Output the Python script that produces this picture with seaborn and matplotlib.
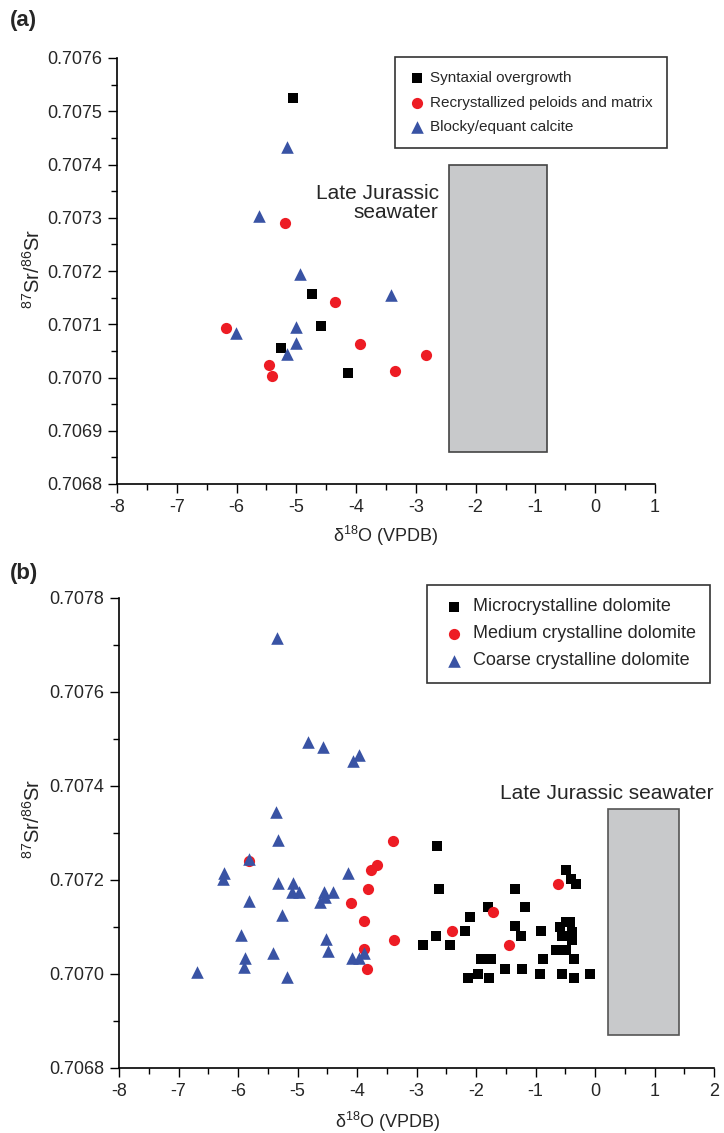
import matplotlib
matplotlib.use("Agg")
import matplotlib.pyplot as plt
import matplotlib.ticker as mticker
from matplotlib.patches import Rectangle
import pandas as pd
import seaborn as sns

# ---- panel (a) data ----
a_syn_x = [-5.06, -4.74, -4.59, -5.26, -4.13]
a_syn_y = [0.707525, 0.707157, 0.707097, 0.707055, 0.707008]
a_rec_x = [-5.19, -4.36, -6.18, -3.94, -2.83, -5.45, -5.40, -3.35]
a_rec_y = [0.707291, 0.707142, 0.707093, 0.707062, 0.707042, 0.707023, 0.707003, 0.707012]
a_blk_x = [-5.16, -5.62, -4.94, -3.42, -5.01, -6.01, -5.01, -5.15]
a_blk_y = [0.707433, 0.707304, 0.707194, 0.707154, 0.707094, 0.707084, 0.707064, 0.707044]
a_sea_x = [-2.45, -0.80]
a_sea_y = [0.70686, 0.70740]

# ---- panel (b) data ----
b_mic_x = [-2.65, -2.63, -2.89, -2.67, -2.43, -2.18, -2.10, -1.79, -1.34, -1.17,
           -1.34, -1.24, -0.90, -1.92, -1.75, -1.97, -2.13, -1.78, -1.51, -1.22,
           -0.92, -0.87, -0.55, -0.36, -0.08, -0.35, -0.66, -0.48, -0.59, -0.42,
           -0.39, -0.56, -0.38, -0.49, -0.40, -0.32, -0.48]
b_mic_y = [0.707272, 0.707180, 0.707062, 0.707081, 0.707062, 0.707091, 0.707121, 0.707143, 0.707180, 0.707143,
           0.707103, 0.707081, 0.707091, 0.707031, 0.707031, 0.707001, 0.706991, 0.706991, 0.707010, 0.707010,
           0.707001, 0.707031, 0.707001, 0.706991, 0.707001, 0.707031, 0.707051, 0.707051, 0.707101, 0.707111,
           0.707090, 0.707081, 0.707072, 0.707221, 0.707202, 0.707191, 0.707111]
b_med_x = [-3.39, -3.66, -3.76, -3.82, -4.10, -3.88, -3.37, -3.88, -3.84, -5.82,
           -2.40, -1.71, -1.45, -0.63]
b_med_y = [0.707282, 0.707232, 0.707221, 0.707181, 0.707152, 0.707112, 0.707072, 0.707053, 0.707011, 0.707241,
           0.707091, 0.707131, 0.707062, 0.707191]
b_coa_x = [-5.35, -4.83, -4.57, -3.97, -4.06, -5.36, -5.33, -5.82, -6.24, -6.25,
           -4.15, -5.32, -5.07, -5.10, -4.97, -4.56, -4.40, -4.53, -4.62, -5.82,
           -5.26, -5.95, -4.52, -4.48, -5.41, -5.89, -5.90, -6.69, -5.18, -4.09,
           -3.96, -3.88]
b_coa_y = [0.707714, 0.707494, 0.707484, 0.707466, 0.707454, 0.707345, 0.707285, 0.707244, 0.707214, 0.707202,
           0.707214, 0.707194, 0.707194, 0.707174, 0.707174, 0.707174, 0.707174, 0.707164, 0.707154, 0.707155,
           0.707125, 0.707084, 0.707074, 0.707050, 0.707045, 0.707035, 0.707014, 0.707005, 0.706994, 0.707035,
           0.707035, 0.707045]
b_sea_x = [0.22, 1.42]
b_sea_y = [0.70687, 0.70735]

a_labels = ["Syntaxial overgrowth", "Recrystallized peloids and matrix", "Blocky/equant calcite"]
b_labels = ["Microcrystalline dolomite", "Medium crystalline dolomite", "Coarse crystalline dolomite"]

BLACK, RED, BLUE = "#000000", "#ED1C24", "#3953A4"

sns.set_style("ticks")
plt.rcParams["font.family"] = ["Liberation Sans", "DejaVu Sans"]
plt.rcParams["mathtext.default"] = "regular"
plt.rcParams["axes.unicode_minus"] = False

fig = plt.figure(figsize=(7.24, 11.33), dpi=100)
ax1 = fig.add_axes([117 / 724, 1 - 484 / 1133, 538 / 724, 426 / 1133])
ax2 = fig.add_axes([119 / 724, 1 - 1068 / 1133, 595 / 724, 470 / 1133])


def draw_group(ax, xs, ys, color, marker, size, label):
    df = pd.DataFrame({"x": xs, "y": ys})
    sns.scatterplot(data=df, x="x", y="y", ax=ax, color=color, marker=marker,
                    s=size, linewidth=0, label=label, legend=False)


def style_axes(ax, xlim, ylim, ymajor):
    ax.set_xlim(*xlim)
    ax.set_ylim(*ylim)
    ax.xaxis.set_major_locator(mticker.MultipleLocator(1))
    ax.xaxis.set_minor_locator(mticker.MultipleLocator(0.5))
    ax.yaxis.set_major_locator(mticker.MultipleLocator(ymajor))
    ax.yaxis.set_minor_locator(mticker.MultipleLocator(ymajor / 2))
    ax.yaxis.set_major_formatter(mticker.FormatStrFormatter("%.4f"))
    ax.xaxis.set_major_formatter(mticker.FormatStrFormatter("%d"))
    sns.despine(ax=ax)
    for sp in ["left", "bottom"]:
        ax.spines[sp].set_linewidth(1.2)
        ax.spines[sp].set_color("black")
    ax.tick_params(which="major", length=6.5, width=1.0, labelsize=13, color="black", pad=4)
    ax.tick_params(which="minor", length=4, width=1.0, color="black")
    ax.set_xlabel(r"δ$^{18}$O (VPDB)", fontsize=13)
    ax.set_ylabel(r"$^{87}$Sr/$^{86}$Sr", fontsize=14.5)


# ---- (a) ----
ax1.add_patch(Rectangle((a_sea_x[0], a_sea_y[0]), a_sea_x[1] - a_sea_x[0], a_sea_y[1] - a_sea_y[0],
                        facecolor="#C8C9CB", edgecolor="#444444", linewidth=1.2, zorder=1))
draw_group(ax1, a_syn_x, a_syn_y, BLACK, "s", 55, a_labels[0])
draw_group(ax1, a_rec_x, a_rec_y, RED, "o", 65, a_labels[1])
draw_group(ax1, a_blk_x, a_blk_y, BLUE, "^", 82, a_labels[2])
style_axes(ax1, (-8, 1), (0.7068, 0.7076), 0.0001)
ax1.text(-2.62, 0.707327, "Late Jurassic\nseawater", ha="right", va="center",
         multialignment="right", fontsize=15, linespacing=1.0)
ax1.legend(loc="upper right", bbox_to_anchor=(1.022, 1.002), fontsize=11, frameon=True,
           fancybox=False, edgecolor="#333333", framealpha=1, borderpad=0.9,
           labelspacing=0.7, handletextpad=0.4, handlelength=1.0, borderaxespad=0)
ax1.get_legend().get_frame().set_linewidth(1.2)
ax1.yaxis.set_label_coords(-0.136, 0.505)
ax1.xaxis.set_label_coords(0.5, -0.094)

# ---- (b) ----
ax2.add_patch(Rectangle((b_sea_x[0], b_sea_y[0]), b_sea_x[1] - b_sea_x[0], b_sea_y[1] - b_sea_y[0],
                        facecolor="#C8C9CB", edgecolor="#555555", linewidth=1.2, zorder=1))
draw_group(ax2, b_mic_x, b_mic_y, BLACK, "s", 55, b_labels[0])
draw_group(ax2, b_med_x, b_med_y, RED, "o", 65, b_labels[1])
draw_group(ax2, b_coa_x, b_coa_y, BLUE, "^", 82, b_labels[2])
style_axes(ax2, (-8, 2), (0.7068, 0.7078), 0.0002)
ax2.text(0.20, 0.707385, "Late Jurassic seawater", ha="center", va="center", fontsize=15)
ax2.legend(loc="upper right", bbox_to_anchor=(0.993, 1.028), fontsize=13, frameon=True,
           fancybox=False, edgecolor="#333333", framealpha=1, borderpad=0.75,
           labelspacing=0.55, handletextpad=0.3, handlelength=1.5, borderaxespad=0)
ax2.get_legend().get_frame().set_linewidth(1.2)
ax2.yaxis.set_label_coords(-0.126, 0.53)
ax2.xaxis.set_label_coords(0.452, -0.089)

fig.text(0.014, 0.982, "(a)", fontsize=16, fontweight="bold", va="center", ha="left")
fig.text(0.014, 0.494, "(b)", fontsize=16, fontweight="bold", va="center", ha="left")

fig.savefig("out.png", dpi=100)
